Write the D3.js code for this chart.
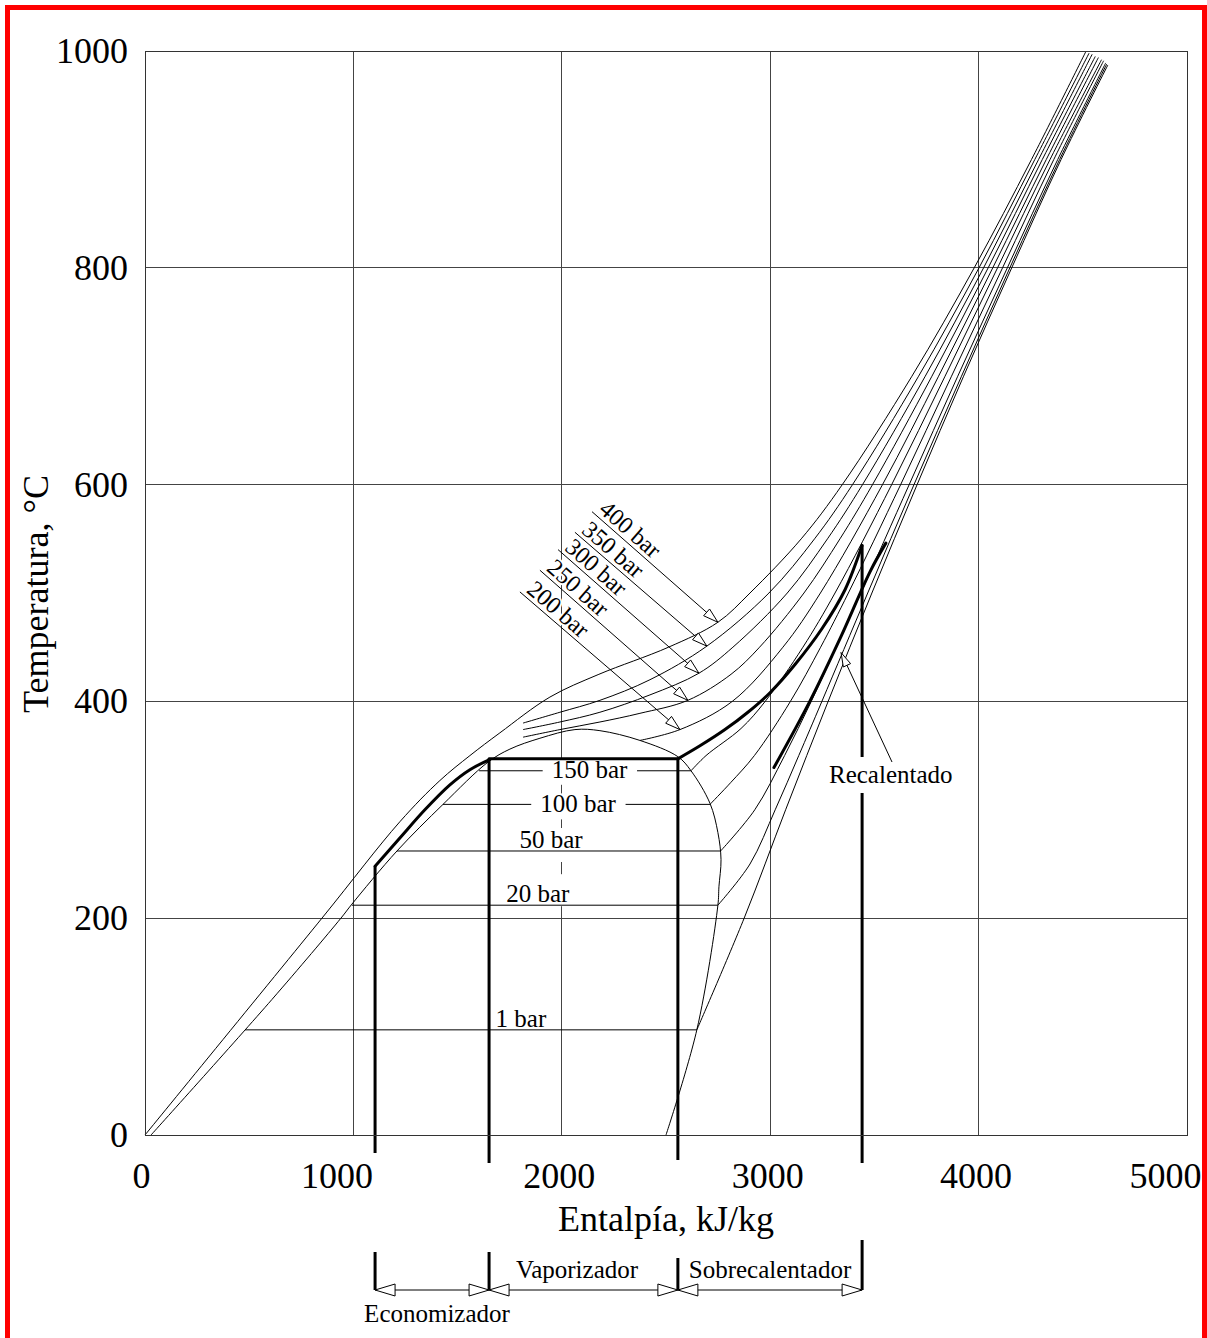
<!DOCTYPE html>
<html>
<head>
<meta charset="utf-8">
<script src="https://cdn.jsdelivr.net/npm/d3@7"></script>
<style>
  html, body { margin: 0; padding: 0; background: #fff; }
  svg { display: block; font-family: "Liberation Serif", "Times New Roman", serif; }
</style>
</head>
<body>
<svg id="chart" width="1207" height="1338"></svg>
<script>
// h in kJ/kg, T in °C
const xTicks = [0, 1000, 2000, 3000, 4000, 5000];
const yTicks = [0, 200, 400, 600, 800, 1000];

// saturation dome
const satLiquid = [[29, 0], [609, 125], [940, 200], [993, 213], [1209, 262], [1430, 305], [1646, 344], [1751, 356], [1895, 366], [2063, 374]];
const satVapor = [[2063, 374], [2183, 373], [2375, 364], [2557, 349], [2620, 336], [2711, 306], [2749, 279], [2764, 254], [2754, 229], [2749, 212], [2648, 97], [2500, 0]];

// subcritical isobars: boiling segment + superheated branch
const boilLabels = ['1 bar', '20 bar', '50 bar', '100 bar', '150 bar'];
const boilT = [97, 212, 262, 305, 336];
const boilStartH = [480, 993, 1209, 1430, 1603];
const boilLabelH = [1804, 1885, 1948, 2078, 2133];

const vap1 = [[2648, 97], [2875, 200], [3074, 300], [3278, 400], [3488, 500], [3705, 600], [3928, 700], [4159, 800], [4396, 900], [4620, 987]];
const vap20 = [[2749, 212], [2903, 250], [3024, 300], [3137, 350], [3248, 400], [3468, 500], [3690, 600], [3918, 700], [4150, 800], [4389, 900], [4615, 988]];
const vap50 = [[2762, 262], [2926, 300], [3069, 350], [3197, 400], [3317, 450], [3435, 500], [3667, 600], [3900, 700], [4138, 800], [4380, 900], [4610, 989]];
const vap100 = [[2711, 305], [2810, 325], [2924, 350], [3097, 400], [3242, 450], [3375, 500], [3626, 600], [3870, 700], [4115, 800], [4361, 900], [4600, 991]];
const vap150 = [[2620, 336], [2692, 350], [2860, 375], [2976, 400], [3157, 450], [3311, 500], [3583, 600], [3839, 700], [4091, 800], [4343, 900], [4590, 992]];
const vap200 = [[2375, 364], [2567, 374], [2818, 400], [3061, 450], [3241, 500], [3539, 600], [3808, 700], [4068, 800], [4325, 900], [4575, 994]];

// supercritical isobars
const sc250 = [[1814, 367], [1991, 374], [2183, 381], [2375, 389], [2605, 401], [2812, 425], [2949, 450], [3162, 500], [3335, 550], [3491, 600], [3776, 700], [4046, 800], [4306, 900], [4560, 995]];
const sc300 = [[1814, 374], [1991, 381], [2183, 390], [2423, 406], [2658, 426], [2821, 450], [3082, 500], [3275, 550], [3443, 600], [3744, 700], [4024, 800], [4288, 900], [4545, 997]];
const sc350 = [[1814, 380], [1991, 390], [2183, 401], [2423, 420], [2696, 451], [2994, 500], [3213, 550], [3395, 600], [3712, 700], [4002, 800], [4270, 900], [4530, 998]];
const sc400 = [[0, 0], [849, 200], [1223, 289], [1415, 327], [1559, 350], [1703, 371], [1943, 404], [2178, 425], [2512, 450], [2749, 473], [2903, 500], [3149, 550], [3346, 600], [3680, 700], [3979, 800], [4254, 900], [4516, 1000]];

const superLabels = ['200 bar', '250 bar', '300 bar', '350 bar', '400 bar'];
const leaderStart = [[1799, 501], [1895, 521], [1982, 540], [2063, 556], [2145, 575]];
const leaderTip = [[2567, 374], [2605, 401], [2658, 426], [2696, 451], [2749, 473]];

// steam generator process (thick)
const econ = [[1104, 248], [1223, 274], [1343, 300], [1463, 323], [1559, 337], [1651, 346]];
const boilerT = 347;
const superheat = [[2557, 347], [2663, 359], [2783, 374], [2893, 390], [2999, 408], [3119, 434], [3248, 467], [3359, 503], [3441, 544]];
const reheat = [[3018, 339], [3190, 400], [3340, 460], [3480, 520], [3555, 546]];
const reheatTip = [3340, 445];
const stageH = [1104, 1651, 2557, 3441];
const stageTopT = [248, 347, 347, 544];
const stageNames = ['Economizador', 'Vaporizador', 'Sobrecalentador'];

const svg = d3.select('#chart');
const x = d3.scaleLinear().domain([0, 5000]).range([145, 1187]);
const y = d3.scaleLinear().domain([0, 1000]).range([1135, 51]);
const px = d => [x(d[0]), y(d[1])];

const smooth = d3.line().x(d => x(d[0])).y(d => y(d[1])).curve(d3.curveCatmullRom.alpha(0.5));
const straight = d3.line().x(d => x(d[0])).y(d => y(d[1]));

function openArrow(g, tip, from, len, half) {
  const dx = tip[0] - from[0], dy = tip[1] - from[1];
  const d = Math.hypot(dx, dy), ux = dx / d, uy = dy / d;
  const bx = tip[0] - ux * len, by = tip[1] - uy * len;
  const pts = [tip, [bx - uy * half, by + ux * half], [bx + uy * half, by - ux * half]];
  g.append('path')
    .attr('d', 'M' + pts.map(p => p.join(',')).join('L') + 'Z')
    .attr('fill', '#fff')
    .attr('stroke', '#000')
    .attr('stroke-width', 1);
}

// grid and frame
const grid = svg.append('g').attr('stroke', '#444').attr('stroke-width', 1).attr('shape-rendering', 'crispEdges');
grid.selectAll('.gx').data(xTicks).join('line').attr('class', 'gx')
  .attr('x1', d => x(d)).attr('x2', d => x(d)).attr('y1', y(0)).attr('y2', y(1000));
grid.selectAll('.gy').data(yTicks).join('line').attr('class', 'gy')
  .attr('x1', x(0)).attr('x2', x(5000)).attr('y1', d => y(d)).attr('y2', d => y(d));

const under = svg.append('g');
const curves = svg.append('g').attr('fill', 'none').attr('stroke', '#000').attr('stroke-width', 1);
const over = svg.append('g');
const labels = svg.append('g').attr('font-size', 25).attr('fill', '#000');

// isobar labels; boxes break the 2000 gridline, and cut the 100/150 bar lines
const boilTexts = boilLabels.map((name, i) => labels.append('text')
  .attr('x', x(boilLabelH[i]))
  .attr('y', y(boilT[i]) + (i === 4 ? 7 : i === 3 ? 8 : -3))
  .attr('text-anchor', 'middle')
  .text(name));
boilTexts.forEach((t, i) => {
  const b = t.node().getBBox();
  if (i >= 3) {
    over.append('rect').attr('x', b.x - 9).attr('width', b.width + 18)
      .attr('y', b.y + 3).attr('height', b.height - 1).attr('fill', '#fff');
  } else {
    const top = i === 1 ? b.y - 6 : b.y + 2;
    const bot = y(boilT[i]) + (i === 2 ? 11 : 1);
    under.append('rect').attr('x', b.x - 4).attr('width', b.width + 8)
      .attr('y', top).attr('height', bot - top).attr('fill', '#fff');
  }
});

// dome
curves.append('path').attr('d', smooth(satLiquid.concat(satVapor.slice(1))));

// boiling segments and superheated branches
[vap1, vap20, vap50, vap100, vap150].forEach((v, i) => {
  curves.append('path').attr('d', straight([[boilStartH[i], boilT[i]], [v[0][0], boilT[i]]]));
  curves.append('path').attr('d', smooth(v));
});
[vap200, sc250, sc300, sc350, sc400].forEach(v => curves.append('path').attr('d', smooth(v)));

// thick process lines
const thick = svg.append('g').attr('fill', 'none').attr('stroke', '#000').attr('stroke-width', 3).attr('stroke-linecap', 'round');
thick.append('path').attr('d', smooth(econ));
thick.append('path').attr('d', straight([[econ[econ.length - 1][0], boilerT], [superheat[0][0], boilerT]]));
thick.append('path').attr('d', smooth(superheat));
thick.append('path').attr('d', smooth(reheat));
const stageBottom = [1153, 1163, 1160, 1163];
stageH.forEach((h, i) => {
  thick.append('line').attr('stroke-linecap', 'butt')
    .attr('x1', x(h)).attr('x2', x(h))
    .attr('y1', y(stageTopT[i])).attr('y2', stageBottom[i]);
});

// supercritical labels with leaders
const lead = svg.append('g');
superLabels.forEach((name, i) => {
  const s = px(leaderStart[i]), t = px(leaderTip[i]);
  const dx = t[0] - s[0], dy = t[1] - s[1], d = Math.hypot(dx, dy);
  const ux = dx / d, uy = dy / d;
  lead.append('line').attr('x1', s[0]).attr('y1', s[1]).attr('x2', t[0]).attr('y2', t[1])
    .attr('stroke', '#000').attr('stroke-width', 1);
  openArrow(lead, t, s, 15, 4.5);
  const ang = Math.atan2(dy, dx) * 180 / Math.PI;
  const tx = s[0] + ux * 4 + uy * 4, ty = s[1] + uy * 4 - ux * 4;
  lead.append('text')
    .attr('transform', `translate(${tx},${ty}) rotate(${ang})`)
    .attr('font-size', 24)
    .attr('stroke', '#fff').attr('stroke-width', 4).attr('paint-order', 'stroke')
    .attr('fill', '#000')
    .text(name);
});

// Recalentado
const rec = svg.append('g');
const recText = rec.append('text').attr('x', 829).attr('y', 783).attr('font-size', 25).text('Recalentado');
const rb = recText.node().getBBox();
rec.insert('rect', 'text').attr('x', rb.x - 2).attr('y', 757).attr('width', rb.width + 4).attr('height', 36).attr('fill', '#fff');
const rtip = px(reheatTip);
rec.append('line').attr('x1', 892).attr('y1', 762).attr('x2', rtip[0]).attr('y2', rtip[1])
  .attr('stroke', '#000').attr('stroke-width', 1);
openArrow(rec, rtip, [892, 762], 14, 4);

// stage dimension line
const dim = svg.append('g');
const dimY = 1290;
const tickTop = [1252, 1252, 1258, 1240];
dim.append('line').attr('x1', x(stageH[0])).attr('x2', x(stageH[3])).attr('y1', dimY).attr('y2', dimY)
  .attr('stroke', '#000').attr('stroke-width', 1);
stageH.forEach((h, i) => {
  dim.append('line').attr('x1', x(h)).attr('x2', x(h)).attr('y1', tickTop[i]).attr('y2', dimY)
    .attr('stroke', '#000').attr('stroke-width', 3);
});
stageNames.forEach((name, i) => {
  const a = x(stageH[i]), b = x(stageH[i + 1]);
  openArrow(dim, [a, dimY], [a + 20, dimY], 20, 6);
  openArrow(dim, [b, dimY], [b - 20, dimY], 20, 6);
});
dim.append('text').attr('x', 437).attr('y', 1322).attr('text-anchor', 'middle').attr('font-size', 25).text(stageNames[0]);
dim.append('text').attr('x', 577).attr('y', 1278).attr('text-anchor', 'middle').attr('font-size', 25).text(stageNames[1]);
dim.append('text').attr('x', 770).attr('y', 1278).attr('text-anchor', 'middle').attr('font-size', 25).text(stageNames[2]);

// axes
const xLabelShift = [-4, -17, -3, -3, -3, -22];
svg.append('g').attr('transform', `translate(0,${y(0)})`)
  .call(d3.axisBottom(x).tickValues(xTicks).tickSize(0).tickPadding(27).tickFormat(d3.format('d')))
  .call(g => g.select('.domain').remove())
  .call(g => g.selectAll('text')
    .attr('font-size', 36).attr('font-family', '"Liberation Serif", "Times New Roman", serif').attr('fill', '#000')
    .attr('dx', (d, i) => xLabelShift[i]));
svg.append('g').attr('transform', `translate(${x(0)},0)`)
  .call(d3.axisLeft(y).tickValues(yTicks).tickSize(0).tickPadding(17).tickFormat(d3.format('d')))
  .call(g => g.select('.domain').remove())
  .call(g => g.selectAll('text')
    .attr('font-size', 36).attr('font-family', '"Liberation Serif", "Times New Roman", serif').attr('fill', '#000'));

svg.append('rect').attr('x', x(0)).attr('y', y(1000)).attr('width', x(5000) - x(0)).attr('height', y(0) - y(1000))
  .attr('fill', 'none').attr('stroke', '#333').attr('stroke-width', 1).attr('shape-rendering', 'crispEdges');

svg.append('text').attr('x', 666).attr('y', 1231).attr('text-anchor', 'middle').attr('font-size', 36).text('Entalpía, kJ/kg');
svg.append('text').attr('transform', 'translate(48,594) rotate(-90)').attr('text-anchor', 'middle').attr('font-size', 36).text('Temperatura, °C');

// page border
svg.append('rect').attr('x', 7.5).attr('y', 7.5).attr('width', 1197).attr('height', 1400)
  .attr('fill', 'none').attr('stroke', '#f00').attr('stroke-width', 5);
</script>
</body>
</html>
